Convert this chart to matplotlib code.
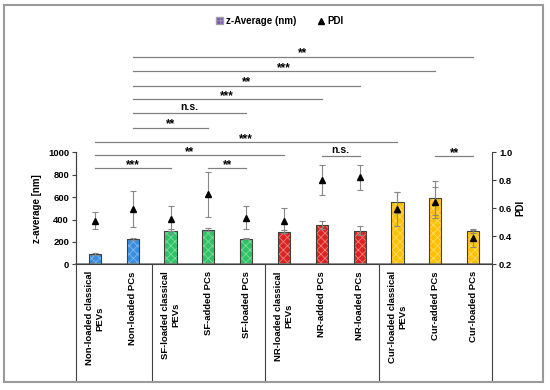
import numpy as np
import matplotlib
matplotlib.use("Agg")
import matplotlib.pyplot as plt
from matplotlib.patches import Rectangle, Patch
from matplotlib.lines import Line2D
import matplotlib.transforms as mtransforms

plt.rcParams['font.family'] = ['Liberation Sans', 'DejaVu Sans']
plt.rcParams['font.weight'] = 'bold'
plt.rcParams['hatch.linewidth'] = 0.6

# data
categories = ["Non-loaded classical\nPEVs", "Non-loaded PCs",
              "SF-loaded classical\nPEVs", "SF-added PCs", "SF-loaded PCs",
              "NR-loaded classical\nPEVs", "NR-added PCs", "NR-loaded PCs",
              "Cur-loaded classical\nPEVs", "Cur-added PCs", "Cur-loaded PCs"]
z_avg = [91, 224, 295, 310, 230, 292, 348, 299, 552, 590, 301]
z_err = [6, 10, 20, 10, 8, 15, 35, 40, 95, 150, 18]
pdi = [0.511, 0.595, 0.526, 0.70, 0.533, 0.511, 0.802, 0.821, 0.595, 0.643, 0.386]
pdi_err = [0.06, 0.13, 0.09, 0.16, 0.08, 0.09, 0.11, 0.09, 0.12, 0.11, 0.06]
groups = ["blue", "blue", "green", "green", "green", "red", "red", "red",
          "yellow", "yellow", "yellow"]

# significance brackets: (from, to, label, height in nm)
sig_inside = [(0, 5, "**", 976), (0, 2, "***", 857), (3, 4, "**", 857),
              (6, 7, "n.s.", 970), (9, 10, "**", 967)]
sig_outside = [(0, 8, "***", 1089), (1, 3, "**", 1220), (1, 4, "n.s.", 1348),
               (1, 6, "***", 1473), (1, 7, "**", 1595), (1, 9, "***", 1726),
               (1, 10, "**", 1854)]

face = {"blue": "#3a8ee0", "green": "#2fc266", "red": "#dd2222", "yellow": "#ffc000"}
light = {"blue": "#7fb8ee", "green": "#80dba2", "red": "#ee8080", "yellow": "#ffdc6a"}

fig = plt.figure(figsize=(5.5, 3.9), dpi=100)
ax = fig.add_axes([76 / 550, 1 - 264.3 / 390, (492 - 76) / 550, 112 / 390])
ax2 = ax.twinx()

x = np.arange(len(categories))
w = 0.32
for i in x:
    g = groups[i]
    ax.bar(i, z_avg[i], w, color=face[g], edgecolor=light[g], hatch="xxxx", lw=0, zorder=2)
    ax.bar(i, z_avg[i], w, fill=False, edgecolor="#404040", lw=0.8, zorder=3)
ax.errorbar(x, z_avg, yerr=z_err, fmt="none", ecolor="#888888", elinewidth=0.8,
            capsize=2, capthick=0.8, zorder=4)

ax2.errorbar(x, pdi, yerr=pdi_err, fmt="^", color="black", ms=4.5,
             ecolor="#888888", elinewidth=0.8, capsize=2, capthick=0.8, zorder=5)

ax.set_xlim(-0.5, len(categories) - 0.5)
ax.set_ylim(0, 1000)
ax2.set_ylim(0.2, 1.0)
ax.set_yticks(range(0, 1001, 200))
ax2.set_yticks([0.2, 0.4, 0.6, 0.8, 1.0])
ax2.set_yticklabels(["0.2", "0.4", "0.6", "0.8", "1.0"])

ax.set_xticks(x)
ax.set_xticklabels(categories, rotation=90, fontsize=6.8, fontweight="bold",
                   multialignment="center")
ax.tick_params(axis="x", length=0, pad=5)
ax.tick_params(axis="y", labelsize=6.8, length=3, color="#404040", pad=2)
ax2.tick_params(axis="y", labelsize=6.8, length=3, color="#404040", pad=2)
for t in ax.get_yticklabels() + ax2.get_yticklabels():
    t.set_fontweight("bold")

ax.set_ylabel("z-average [nm]", fontsize=7, fontweight="bold", labelpad=4)
ax2.set_ylabel("PDI", fontsize=7, fontweight="bold", labelpad=2)

for a in (ax, ax2):
    a.spines["top"].set_visible(False)
    for s in ("left", "right", "bottom"):
        a.spines[s].set_color("#404040")
        a.spines[s].set_linewidth(0.8)
ax.spines["right"].set_visible(False)
ax.spines["bottom"].set_color("#808080")
ax.spines["bottom"].set_linewidth(1.2)

# separators below the axis
trans = mtransforms.blended_transform_factory(ax.transData, ax.transAxes)
for xs in [-0.5, 1.5, 4.5, 7.5, 10.5]:
    ax.plot([xs, xs], [0, -1.048], color="#404040", lw=0.8, transform=trans,
            clip_on=False, zorder=1)

# significance brackets
for i, j, lab, y in sig_inside + sig_outside:
    ax.plot([i, j], [y, y], color="#808080", lw=0.9, clip_on=False, zorder=1)
    if lab == "n.s.":
        ax.text((i + j) / 2, y + 8, lab, ha="center", va="bottom", fontsize=7.5,
                fontweight="bold", clip_on=False)
    else:
        ax.text((i + j) / 2, y - 25, lab, ha="center", va="bottom", fontsize=8.5,
                fontweight="bold", clip_on=False)

# legend
handles = [Patch(facecolor="#7a4fc0", edgecolor="#a0a0a0", hatch="++", label="z-Average (nm)"),
           Line2D([], [], marker="^", color="black", ls="none", ms=4, label="PDI")]
fig.legend(handles=handles, loc="center", bbox_to_anchor=(280 / 550, 1 - 21 / 390),
           ncol=2, frameon=False, handlelength=0.7, handletextpad=0.3,
           columnspacing=2.2, prop={"weight": "bold", "size": 7})

# figure border
fig.patches.append(Rectangle((4 / 550, 1 - 382 / 390), 539 / 550, 377 / 390,
                             transform=fig.transFigure, fill=False,
                             edgecolor="#9a9a9a", lw=1.5))

fig.savefig("out.png", dpi=100)
